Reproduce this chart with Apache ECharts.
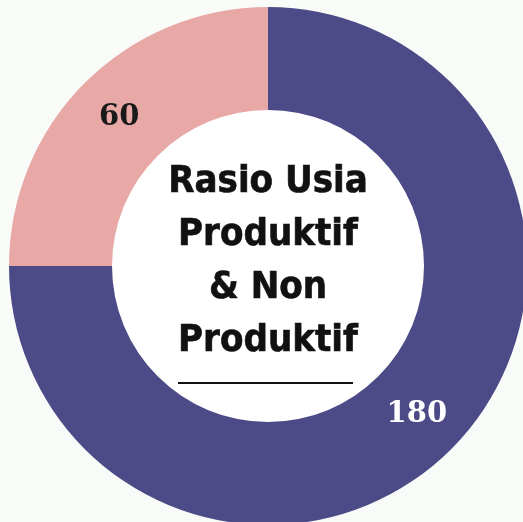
<!DOCTYPE html>
<html>
<head>
<meta charset="utf-8">
<script src="https://cdn.jsdelivr.net/npm/echarts@6/dist/echarts.min.js"></script>
<style>
html, body { margin: 0; padding: 0; background: #f9fbf9; }
#chart { width: 523px; height: 522px; }
</style>
</head>
<body>
<div id="chart"></div>
<script>
var categories = ['Produktif', 'Non Produktif']
var values = [180, 60]
var colors = ['#4c4a87', '#e8a9a6']
var centerTitle = 'Rasio Usia\nProduktif\n& Non\nProduktif'

var chart = echarts.init(document.getElementById('chart'))

var data = []
for (var i = 0; i < values.length; i++) {
    data.push({
        name: categories[i],
        value: values[i],
        itemStyle: { color: colors[i] },
        label: { color: i == 0 ? '#ffffff' : '#1a1a1a' }
    })
}

var option = {
    backgroundColor: '#f9fbf9',
    animation: false,
    series: [{
        type: 'pie',
        center: [268, 266],
        radius: [156, 259],
        startAngle: 90,
        clockwise: true,
        label: {
            show: true,
            position: 'inside',
            formatter: '{c}',
            fontFamily: 'DejaVu Serif',
            fontWeight: 'bold',
            fontSize: 29
        },
        labelLine: { show: false },
        data: data
    }],
    graphic: [{
        type: 'circle',
        shape: { cx: 268, cy: 266, r: 156 },
        style: { fill: '#ffffff' },
        z: 0
    }, {
        type: 'text',
        x: 268,
        y: 262,
        style: {
            text: centerTitle,
            align: 'center',
            verticalAlign: 'middle',
            fontFamily: 'DejaVu Sans Condensed',
            fontWeight: 'bold',
            fontSize: 38,
            lineHeight: 53,
            fill: '#111111',
            stroke: '#111111',
            lineWidth: 0.6
        },
        z: 10
    }, {
        type: 'line',
        shape: { x1: 178, y1: 383, x2: 353, y2: 383 },
        style: { stroke: '#111111', lineWidth: 2 },
        z: 10
    }]
}

chart.setOption(option)
</script>
</body>
</html>
